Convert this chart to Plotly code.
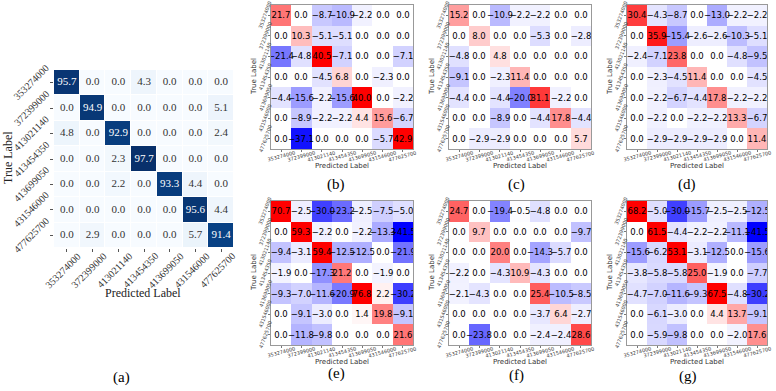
import plotly.graph_objects as go

W, H = 776, 391

labels = ["353274000", "372399000", "413021140", "413454350",
          "413699050", "431546000", "477625700"]

cm_a = [
    [95.7, 0.0, 0.0, 4.3, 0.0, 0.0, 0.0],
    [0.0, 94.9, 0.0, 0.0, 0.0, 0.0, 5.1],
    [4.8, 0.0, 92.9, 0.0, 0.0, 0.0, 2.4],
    [0.0, 0.0, 2.3, 97.7, 0.0, 0.0, 0.0],
    [0.0, 0.0, 2.2, 0.0, 93.3, 4.4, 0.0],
    [0.0, 0.0, 0.0, 0.0, 0.0, 95.6, 4.4],
    [0.0, 2.9, 0.0, 0.0, 0.0, 5.7, 91.4],
]

diff_b = [
    [21.7, 0.0, -8.7, -10.9, -2.2, 0.0, 0.0],
    [0.0, 10.3, -5.1, -5.1, 0.0, 0.0, 0.0],
    [-21.4, -4.8, 40.5, -7.1, 0.0, 0.0, -7.1],
    [0.0, 0.0, -4.5, 6.8, 0.0, -2.3, 0.0],
    [-4.4, -15.6, -2.2, -15.6, 40.0, 0.0, -2.2],
    [0.0, -8.9, -2.2, -2.2, 4.4, 15.6, -6.7],
    [0.0, -37.1, 0.0, 0.0, 0.0, -5.7, 42.9],
]

diff_c = [
    [15.2, 0.0, -10.9, -2.2, -2.2, 0.0, 0.0],
    [0.0, 8.0, 0.0, 0.0, -5.3, 0.0, -2.8],
    [-4.8, 0.0, 4.8, 0.0, 0.0, 0.0, 0.0],
    [-9.1, 0.0, -2.3, 11.4, 0.0, 0.0, 0.0],
    [-4.4, 0.0, -4.4, -20.0, 31.1, -2.2, 0.0],
    [0.0, 0.0, -8.9, 0.0, -4.4, 17.8, -4.4],
    [0.0, -2.9, -2.9, 0.0, 0.0, 0.0, 5.7],
]

diff_d = [
    [30.4, -4.3, -8.7, 0.0, -13.0, -2.2, -2.2],
    [0.0, 35.9, -15.4, -2.6, -2.6, -10.3, -5.1],
    [-2.4, -7.1, 23.8, 0.0, 0.0, -4.8, -9.5],
    [0.0, -2.3, -4.5, 11.4, 0.0, 0.0, -4.5],
    [0.0, -2.2, -6.7, -4.4, 17.8, -2.2, -2.2],
    [0.0, -2.2, 0.0, -2.2, -2.2, 13.3, -6.7],
    [0.0, -2.9, -2.9, -2.9, -2.9, 0.0, 11.4],
]

diff_e = [
    [70.7, -2.5, -30.0, -23.2, -2.5, -7.5, -5.0],
    [0.0, 59.3, -2.2, 0.0, -2.2, -13.3, -41.5],
    [-9.4, -3.1, 59.4, -12.5, -12.5, 0.0, -21.9],
    [-1.9, 0.0, -17.3, 21.2, 0.0, -1.9, 0.0],
    [-9.3, -7.0, -11.6, -20.9, 76.8, 2.2, -30.2],
    [0.0, -9.1, -3.0, 0.0, 1.4, 19.8, -9.1],
    [0.0, -11.8, -9.8, 0.0, 0.0, 0.0, 21.6],
]

diff_f = [
    [24.7, 0.0, -19.4, -0.5, -4.8, 0.0, 0.0],
    [0.0, 9.7, 0.0, 0.0, 0.0, 0.0, -9.7],
    [0.0, 0.0, 20.0, 0.0, -14.3, -5.7, 0.0],
    [-2.2, 0.0, -4.3, 10.9, -4.3, 0.0, 0.0],
    [-2.1, -4.3, 0.0, 0.0, 25.4, -10.5, -8.5],
    [0.0, 0.0, 0.0, 0.0, -3.7, 6.4, -2.7],
    [0.0, -23.8, 0.0, 0.0, -2.4, -2.4, 28.6],
]

diff_g = [
    [68.2, -5.0, -30.0, -15.7, -2.5, -2.5, -12.5],
    [0.0, 61.5, -4.4, -2.2, -2.2, -11.1, -41.5],
    [-15.6, -6.2, 53.1, -3.1, -12.5, 0.0, -15.6],
    [-3.8, -5.8, -5.8, 25.0, -1.9, 0.0, -7.7],
    [-4.7, -7.0, -11.6, -9.3, 67.5, -4.8, -30.2],
    [0.0, -6.1, -3.0, 0.0, 4.4, 13.7, -9.1],
    [0.0, -5.9, -9.8, 0.0, 0.0, -2.0, 17.6],
]

captions = ["(a)", "(b)", "(c)", "(d)", "(e)", "(f)", "(g)"]

blues = [[0.0, "rgb(247,251,255)"], [0.125, "rgb(222,235,247)"],
         [0.25, "rgb(198,219,239)"], [0.375, "rgb(158,202,225)"],
         [0.5, "rgb(107,174,214)"], [0.625, "rgb(66,146,198)"],
         [0.75, "rgb(33,113,181)"], [0.875, "rgb(8,81,156)"],
         [1.0, "rgb(8,48,107)"]]
bwr = [[0.0, "rgb(0,0,255)"], [0.5, "rgb(255,255,255)"], [1.0, "rgb(255,0,0)"]]

# panel boxes in pixels: (x0, x1, y0, y1), caption position
boxes = {
    "a": (54, 234, 70, 248),
    "b": (271, 413, 5, 149),
    "c": (449, 591, 5, 149),
    "d": (627, 767, 5, 149),
    "e": (271, 413, 201, 345),
    "f": (449, 591, 201, 345),
    "g": (627, 767, 201, 345),
}
cap_pos = {"a": (121, 377), "b": (336, 184), "c": (516, 184), "d": (687, 184),
           "e": (336, 373), "f": (516, 375), "g": (688, 376)}

def fmt(v):
    s = f"{v:.1f}"
    return s.replace("-", "\u2212")

fig = go.Figure()
layout = {}
annotations = []
n = len(labels)
idx = list(range(n))
keys = ["a", "b", "c", "d", "e", "f", "g"]
mats = [cm_a, diff_b, diff_c, diff_d, diff_e, diff_f, diff_g]

for k, (key, mat) in enumerate(zip(keys, mats)):
    ax = "" if k == 0 else str(k + 1)
    xa, ya = "x" + ax, "y" + ax
    x0, x1, y0, y1 = boxes[key]
    dx = [x0 / W, x1 / W]
    dy = [1 - y1 / H, 1 - y0 / H]
    text = [[fmt(v) for v in row] for row in mat]
    if key == "a":
        fig.add_trace(go.Heatmap(z=mat, x=idx, y=idx, colorscale=blues,
                                 zmin=0, zmax=max(max(r) for r in mat),
                                 showscale=False, xgap=1, ygap=1,
                                 xaxis=xa, yaxis=ya, hoverinfo="skip"))
        zmax = max(max(r) for r in mat)
        xs, ys, ts, cs = [], [], [], []
        for i in range(n):
            for j in range(n):
                xs.append(j); ys.append(i); ts.append(text[i][j])
                cs.append("white" if mat[i][j] > zmax / 2 else "#333333")
        fig.add_trace(go.Scatter(x=xs, y=ys, text=ts, mode="text",
                                 textfont=dict(family="Liberation Serif", size=11, color=cs),
                                 xaxis=xa, yaxis=ya, hoverinfo="skip", showlegend=False))
        tfont = dict(family="Liberation Serif", size=10, color="#333333")
        common = dict(showgrid=False, zeroline=False, showticklabels=False,
                      ticks="outside", ticklen=3, tickcolor="#555555",
                      tickvals=idx, showline=False)
        layout["xaxis" + ax] = dict(domain=dx, range=[-0.5, n - 0.5], anchor=ya, **common)
        layout["yaxis" + ax] = dict(domain=dy, range=[n - 0.5, -0.5], anchor=xa, **common)
        for i, lab in enumerate(labels):
            annotations.append(dict(x=i, y=0, xref=xa, yref=ya + " domain", text=lab,
                                    showarrow=False, textangle=-45, font=tfont,
                                    xanchor="center", yanchor="middle", yshift=-22, xshift=-4))
            annotations.append(dict(x=0, y=i, xref=xa + " domain", yref=ya, text=lab,
                                    showarrow=False, textangle=-45, font=tfont,
                                    xanchor="center", yanchor="middle", xshift=-23))
        tf = dict(family="Liberation Serif", size=12, color="#222222")
        annotations.append(dict(x=8 / W, y=1 - 158 / H, xref="paper", yref="paper",
                                text="True Label", textangle=-90, showarrow=False, font=tf,
                                xanchor="center", yanchor="middle"))
        annotations.append(dict(x=143 / W, y=1 - 293 / H, xref="paper", yref="paper",
                                text="Predicted Label", showarrow=False, font=tf,
                                xanchor="center", yanchor="middle"))
    else:
        fig.add_trace(go.Heatmap(z=mat, x=idx, y=idx, colorscale=bwr,
                                 zmin=-40, zmax=40, showscale=False,
                                 text=text, texttemplate="%{text}",
                                 textfont=dict(family="DejaVu Sans", size=8.5, color="black"),
                                 xaxis=xa, yaxis=ya, hoverinfo="skip"))
        tfont = dict(family="DejaVu Sans", size=5, color="#444444")
        common = dict(showgrid=False, zeroline=False, showticklabels=False,
                      ticks="outside", ticklen=2, tickcolor="#777777", tickwidth=0.6,
                      tickvals=idx, showline=True, mirror=True,
                      linecolor="#999999", linewidth=0.8)
        layout["xaxis" + ax] = dict(domain=dx, range=[-0.5, n - 0.5], anchor=ya, **common)
        layout["yaxis" + ax] = dict(domain=dy, range=[n - 0.5, -0.5], anchor=xa, **common)
        for i, lab in enumerate(labels):
            annotations.append(dict(x=i, y=0, xref=xa, yref=ya + " domain", text=lab,
                                    showarrow=False, textangle=-15, font=tfont,
                                    xanchor="center", yanchor="middle", yshift=-7))
            annotations.append(dict(x=0, y=i, xref=xa + " domain", yref=ya, text=lab,
                                    showarrow=False, textangle=-70, font=tfont,
                                    xanchor="center", yanchor="middle", xshift=-6))
        tf = dict(family="DejaVu Sans", size=7, color="#333333")
        annotations.append(dict(x=0, y=0.5, xref=xa + " domain", yref=ya + " domain",
                                text="True Label", textangle=-90, showarrow=False, font=tf,
                                xanchor="center", yanchor="middle", xshift=-17))
        annotations.append(dict(x=0.5, y=0, xref=xa + " domain", yref=ya + " domain",
                                text="Predicted Label", showarrow=False, font=tf,
                                xanchor="center", yanchor="middle", yshift=-17))
    cx, cy = cap_pos[key]
    annotations.append(dict(x=cx / W, y=1 - cy / H, xref="paper", yref="paper",
                            text=captions[k], showarrow=False,
                            font=dict(family="Liberation Serif", size=15, color="black"),
                            xanchor="center", yanchor="middle"))

fig.update_layout(width=W, height=H, margin=dict(l=0, r=0, t=0, b=0),
                  paper_bgcolor="white", plot_bgcolor="white",
                  showlegend=False, annotations=annotations, **layout)

fig.write_html("out.html")
